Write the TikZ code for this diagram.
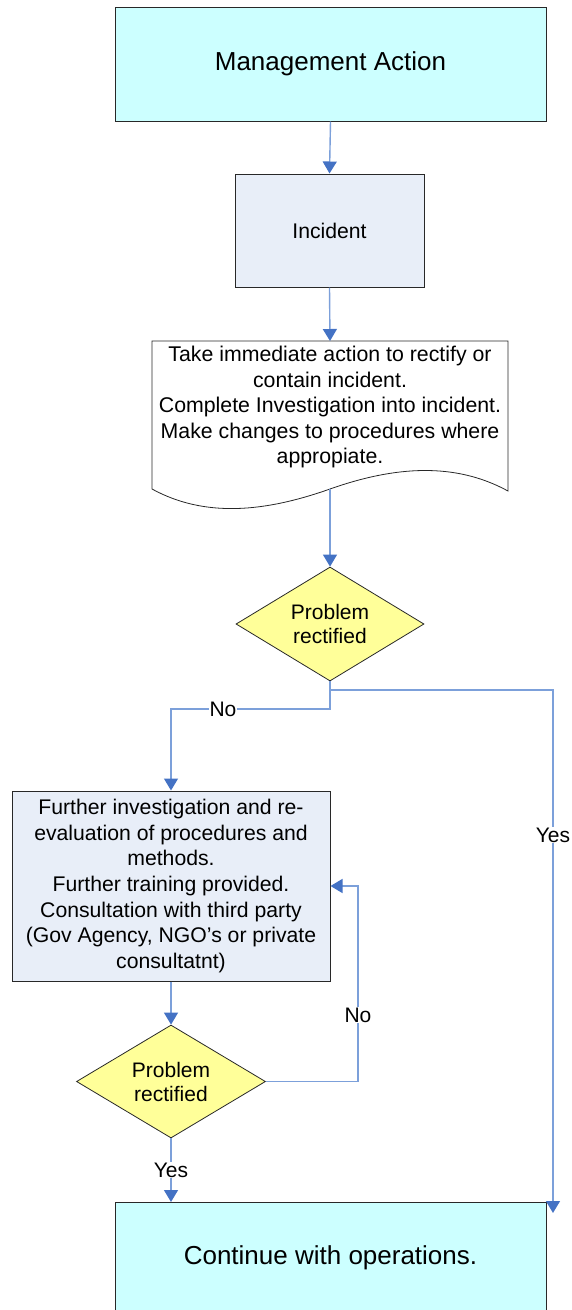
\documentclass[tikz,border=0pt]{standalone}
\usepackage{fontspec}
\setmainfont{Liberation Sans}
\usetikzlibrary{arrows.meta,shapes.geometric,calc}
\definecolor{cyanfill}{RGB}{204,255,255}
\definecolor{boxfill}{RGB}{232,238,248}
\definecolor{yellowfill}{RGB}{255,255,153}
\definecolor{linecol}{RGB}{124,160,218}
\definecolor{arrowcol}{RGB}{68,114,196}
\definecolor{bordercol}{RGB}{40,40,40}
\tikzset{
  bigbox/.style={draw=bordercol, line width=1pt, fill=cyanfill, rectangle, inner sep=0pt,
    font=\fontsize{26}{30}\selectfont},
  stepbox/.style={draw=bordercol, line width=1pt, fill=boxfill, rectangle, inner sep=0pt,
    align=center, font=\fontsize{21.2}{25.7}\selectfont},
  decbox/.style={draw=bordercol, line width=0.8pt, fill=yellowfill, diamond, inner sep=0pt},
  dectext/.style={align=center, inner sep=0pt, font=\fontsize{21}{24}\selectfont},
  txt/.style={align=center, inner sep=0pt, font=\fontsize{21.3}{25.5}\selectfont},
  lbl/.style={fill=white, inner sep=1pt, font=\fontsize{21}{24}\selectfont},
  conn/.style={draw=linecol, line width=1.4pt,
    -{Triangle[width=14pt,length=12pt,fill=arrowcol,color=arrowcol]}},
  plain/.style={draw=linecol, line width=1.4pt}
}
\begin{document}
\begin{tikzpicture}[x=1pt,y=-1pt]
\useasboundingbox (0,0) rectangle (571,1310);
% nodes
\node[bigbox, minimum width=431pt, minimum height=114pt] (ma) at (330.5,64) {Management Action};
\node[stepbox, minimum width=189pt, minimum height=113pt] (inc) at (329.5,230.5) {Incident};
% document shape
\draw[draw=bordercol, line width=0.8pt, fill=white]
  (152,341) -- (508,341) -- (508,491)
  .. controls (455,462) and (395,466) .. (330,489)
  .. controls (265,512) and (205,518) .. (152,489) -- cycle;
\node[txt] (doc) at (330,407) {Take immediate action to rectify or\\contain incident.\\Complete Investigation into incident.\\Make changes to procedures where\\appropiate.};
\coordinate (doctop) at (330,341);
\coordinate (docbot) at (330,489);
% first decision
\node[decbox, minimum width=188pt, minimum height=114pt] (d1) at (330,624) {};
\node[dectext] (d1t) at (330,624) {Problem\\rectified};
% further box
\node[stepbox, minimum width=318pt, minimum height=190pt] (fur) at (171,886)
  {Further investigation and re-\\evaluation of procedures and\\methods.\\Further training provided.\\Consultation with third party\\(Gov Agency, NGO’s or private\\consultatnt)};
% second decision
\node[decbox, minimum width=189pt, minimum height=113pt] (d2) at (171,1081.5) {};
\node[dectext] (d2t) at (171,1081.5) {Problem\\rectified};
% continue
\node[bigbox, minimum width=431pt, minimum height=120pt] (cont) at (330.5,1262) {};
\node[inner sep=0pt, font=\fontsize{26}{30}\selectfont] (contt) at (330.5,1258) {Continue with operations.};
% coordinates
\coordinate (yesend) at (553,1213);
\coordinate (nobend) at (330,709);
\coordinate (yesbend) at (330,690);
\coordinate (loopx) at (358,1081.5);
\coordinate (contin) at (171,1202);
% connectors
\draw[conn] (ma.south) -- (inc.north);
\draw[conn] (inc.south) -- (doctop);
\draw[conn] (docbot) -- (d1.north);
\draw[conn] (d1.south) -- (nobend) -| (fur.north);
\draw[conn] (yesbend) -| (yesend);
\draw[conn] (fur.south) -- (d2.north);
\draw[conn] (d2.east) -- (loopx) |- (fur.east);
\draw[conn] (d2.south) -- (contin);
% labels
\node[lbl] (no1) at (223,709) {No};
\node[lbl] (yes1) at (553,835) {Yes};
\node[lbl] (no2) at (358,1015) {No};
\node[lbl] (yes2) at (171,1170) {Yes};
\end{tikzpicture}
\end{document}
